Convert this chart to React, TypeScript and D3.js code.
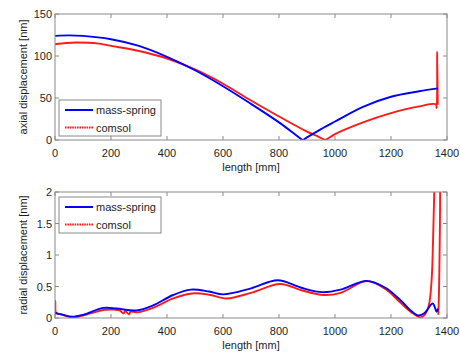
import React from "react";
import * as d3 from "d3";

// ---- data ----
const axialBlueX = [0, 50, 100, 200, 300, 400, 500, 600, 700, 800, 860, 874, 885, 897, 950, 1000, 1100, 1200, 1300, 1368];
const axialBlueY = [124, 124.5, 124, 120, 112, 99, 83, 64, 43, 21, 6, 2.5, 0, 2.5, 13, 22, 39.5, 51.5, 58, 61.5];

const axialRedX = [0, 40, 80, 150, 200, 300, 400, 500, 600, 700, 800, 900, 940, 954, 965, 976, 1000, 1100, 1200, 1300, 1360, 1363, 1365, 1367];
const axialRedY = [114, 115.5, 116, 115, 112, 106, 97, 84, 67, 47, 28, 10, 4, 1.8, 0, 2, 7, 21, 32, 40, 42.5, 38, 105, 42];

const radialBlueX = [0, 10, 30, 60, 100, 172, 220, 291, 350, 422, 485, 550, 601, 700, 795, 880, 955, 1020, 1113, 1180, 1232, 1270, 1297, 1320, 1349, 1363, 1368];
const radialBlueY = [0.085, 0.07, 0.05, 0.02, 0.05, 0.16, 0.15, 0.12, 0.2, 0.365, 0.45, 0.42, 0.375, 0.47, 0.6, 0.48, 0.41, 0.45, 0.59, 0.48, 0.29, 0.12, 0.04, 0.08, 0.23, 0.1, 0.15];

const radialRedX = [0, 1, 2, 4, 8, 20, 60, 100, 180, 230, 245, 250, 265, 270, 295, 350, 422, 490, 550, 613, 700, 804, 880, 960, 1020, 1113, 1180, 1232, 1270, 1306, 1320, 1335, 1345, 1350, 1355, 1360, 1366, 1369];
const radialRedY = [0.05, 0.27, 0.1, 0.08, 0.07, 0.06, 0.01, 0.04, 0.13, 0.12, 0.07, 0.11, 0.06, 0.1, 0.09, 0.16, 0.31, 0.39, 0.37, 0.31, 0.4, 0.54, 0.44, 0.365, 0.4, 0.585, 0.46, 0.25, 0.1, 0.01, 0.05, 0.2, 0.6, 1.2, 2.1, 3, 3, 0.05];

const xTicks = [0, 200, 400, 600, 800, 1000, 1200, 1400];
const axialTicks = [0, 50, 100, 150];
const radialTicks = [0, 0.5, 1, 1.5, 2];
const radialTickLabels = ["0", "0.5", "1", "1.5", "2"];
const seriesNames = ["mass-spring", "comsol"];

const FONT = "'Liberation Sans', Arial, sans-serif";
const TEXT = "#1e1e1e";
const FRAME = "#8a8a8a";
const BLUE = "#0000ff";
const RED = "#ff1a1a";

type PanelProps = {
  top: number;
  bottom: number;
  yDomain: [number, number];
  yTicks: number[];
  yLabels: string[];
  yTitle: string;
  blue: [number[], number[]];
  red: [number[], number[]];
  legendY: number;
  id: string;
};

const LEFT = 55;
const RIGHT = 447;

function Panel(p: PanelProps) {
  const x = d3.scaleLinear().domain([0, 1400]).range([LEFT, RIGHT]);
  const y = d3.scaleLinear().domain(p.yDomain).range([p.bottom, p.top]);
  const line = d3
    .line<[number, number]>()
    .x((d) => x(d[0]))
    .y((d) => y(d[1]))
    .curve(d3.curveCatmullRom.alpha(0.5));
  const bluePts = p.blue[0].map((v, i) => [v, p.blue[1][i]] as [number, number]);
  const redPts = p.red[0].map((v, i) => [v, p.red[1][i]] as [number, number]);
  const tl = 4;
  const lx = 59;
  const lw = 102;
  const lh = 36;
  return (
    <g fontFamily={FONT}>
      <defs>
        <clipPath id={"clip" + p.id}>
          <rect x={LEFT} y={p.top} width={RIGHT - LEFT} height={p.bottom - p.top} />
        </clipPath>
      </defs>
      <g clipPath={`url(#clip${p.id})`}>
        <path d={line(redPts) || ""} fill="none" stroke={RED} strokeWidth={1.9} strokeLinejoin="round" />
        <path d={line(bluePts) || ""} fill="none" stroke={BLUE} strokeWidth={1.9} strokeLinejoin="round" />
      </g>
      <rect x={LEFT} y={p.top} width={RIGHT - LEFT} height={p.bottom - p.top} fill="none" stroke={FRAME} strokeWidth={1} />
      {xTicks.map((t) => (
        <g key={"x" + t}>
          <line x1={x(t)} x2={x(t)} y1={p.bottom} y2={p.bottom - tl} stroke={FRAME} />
          <line x1={x(t)} x2={x(t)} y1={p.top} y2={p.top + tl} stroke={FRAME} />
          <text x={x(t)} y={p.bottom + 17} textAnchor="middle" fontSize={11} fill={TEXT}>
            {t}
          </text>
        </g>
      ))}
      {p.yTicks.map((t, i) => (
        <g key={"y" + t}>
          <line x1={LEFT} x2={LEFT + tl} y1={y(t)} y2={y(t)} stroke={FRAME} />
          <line x1={RIGHT} x2={RIGHT - tl} y1={y(t)} y2={y(t)} stroke={FRAME} />
          <text x={LEFT - 3} y={y(t) + 4} textAnchor="end" fontSize={11} fill={TEXT}>
            {p.yLabels[i]}
          </text>
        </g>
      ))}
      <text x={(LEFT + RIGHT) / 2} y={p.bottom + 31} textAnchor="middle" fontSize={11} fill={TEXT}>
        length [mm]
      </text>
      <text
        transform={`translate(27,${(p.top + p.bottom) / 2}) rotate(-90)`}
        textAnchor="middle"
        fontSize={11}
        fill={TEXT}
      >
        {p.yTitle}
      </text>
      <g>
        <rect x={lx} y={p.legendY} width={lw} height={lh} fill="white" stroke={FRAME} strokeWidth={1} />
        <line x1={lx + 6} x2={lx + 34} y1={p.legendY + 10} y2={p.legendY + 10} stroke={BLUE} strokeWidth={2} />
        <line x1={lx + 6} x2={lx + 34} y1={p.legendY + 27.5} y2={p.legendY + 27.5} stroke={RED} strokeWidth={2} strokeDasharray="1.6,0.8" />
        <text x={lx + 37} y={p.legendY + 14} fontSize={11} fill={TEXT}>
          {seriesNames[0]}
        </text>
        <text x={lx + 37} y={p.legendY + 31.5} fontSize={11} fill={TEXT}>
          {seriesNames[1]}
        </text>
      </g>
    </g>
  );
}

export default function App() {
  return (
    <svg
      width={460}
      height={354}
      style={{ position: "fixed", left: 0, top: 0, background: "white" }}
    >
      <rect width={460} height={354} fill="white" />
      <Panel
        id="a"
        top={14}
        bottom={140}
        yDomain={[0, 150]}
        yTicks={axialTicks}
        yLabels={axialTicks.map(String)}
        yTitle="axial displacement [nm]"
        blue={[axialBlueX, axialBlueY]}
        red={[axialRedX, axialRedY]}
        legendY={100}
      />
      <Panel
        id="b"
        top={192}
        bottom={318}
        yDomain={[0, 2]}
        yTicks={radialTicks}
        yLabels={radialTickLabels}
        yTitle="radial displacement [nm]"
        blue={[radialBlueX, radialBlueY]}
        red={[radialRedX, radialRedY]}
        legendY={197}
      />
    </svg>
  );
}
